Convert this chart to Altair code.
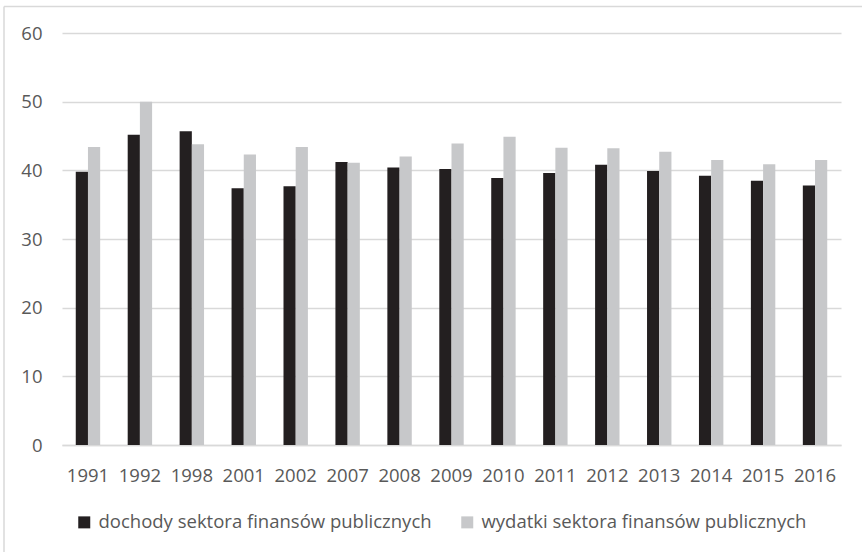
import altair as alt
import pandas as pd

years = ["1991", "1992", "1998", "2001", "2002", "2007", "2008", "2009",
         "2010", "2011", "2012", "2013", "2014", "2015", "2016"]
dochody = [39.8, 45.2, 45.7, 37.4, 37.7, 41.2, 40.4, 40.2,
           38.9, 39.6, 40.8, 39.9, 39.2, 38.5, 37.8]
wydatki = [43.4, 50.0, 43.8, 42.3, 43.4, 41.1, 42.0, 43.9,
           44.9, 43.3, 43.2, 42.7, 41.5, 40.9, 41.5]
series = ["dochody sektora finansów publicznych",
          "wydatki sektora finansów publicznych"]
colors = ["#231f20", "#c7c8ca"]

rows = []
for i, y in enumerate(years):
    rows.append({"rok": y, "seria": series[0], "wartosc": dochody[i]})
    rows.append({"rok": y, "seria": series[1], "wartosc": wydatki[i]})
df = pd.DataFrame(rows)

FONT = "Open Sans"
FS = 18.5
LABEL = "#595959"
GRID = "#d9d9d9"

bars = alt.Chart(df).mark_bar().encode(
    x=alt.X("rok:N", sort=years, title=None,
            scale=alt.Scale(paddingInner=0.53, paddingOuter=0.265),
            axis=alt.Axis(labelAngle=0, labelFont=FONT, labelFontSize=FS,
                          labelColor=LABEL, ticks=False, domainColor=GRID,
                          domainWidth=1.5, labelPadding=21, grid=False)),
    xOffset=alt.XOffset("seria:N", sort=series,
                        scale=alt.Scale(paddingInner=0, paddingOuter=0)),
    y=alt.Y("wartosc:Q", title=None,
            scale=alt.Scale(domain=[0, 60], nice=False),
            axis=alt.Axis(values=[0, 10, 20, 30, 40, 50, 60], labelFont=FONT,
                          labelFontSize=FS, labelColor=LABEL, ticks=False,
                          domain=False, gridColor=GRID, gridWidth=1.5,
                          labelPadding=20)),
    color=alt.Color("seria:N", sort=series,
                    scale=alt.Scale(domain=series, range=colors),
                    legend=alt.Legend(title=None, orient="none", legendX=13,
                                      legendY=480, direction="horizontal",
                                      columns=2, symbolType="square",
                                      symbolSize=144, symbolStrokeWidth=0,
                                      labelFont=FONT, labelFontSize=FS,
                                      labelColor=LABEL, labelOffset=5,
                                      columnPadding=26, labelLimit=400)),
)

frame = pd.DataFrame({"k": [0]})
top_border = alt.Chart(frame).mark_rule(color=GRID, strokeWidth=1.5).encode(
    x=alt.value(-58), x2=alt.value(820), y=alt.value(-26.5))
left_border = alt.Chart(frame).mark_rule(color=GRID, strokeWidth=1.5).encode(
    x=alt.value(-58), y=alt.value(-26.5), y2=alt.value(540))

chart = alt.layer(top_border, left_border, bars).properties(
    width=779, height=412,
    padding={"left": 62, "top": 33, "right": 21, "bottom": 107},
    autosize=alt.AutoSizeParams(type="none"),
    background="white",
).configure_view(stroke=None)

chart.save("out.html", embed_options={"renderer": "svg", "actions": False})
